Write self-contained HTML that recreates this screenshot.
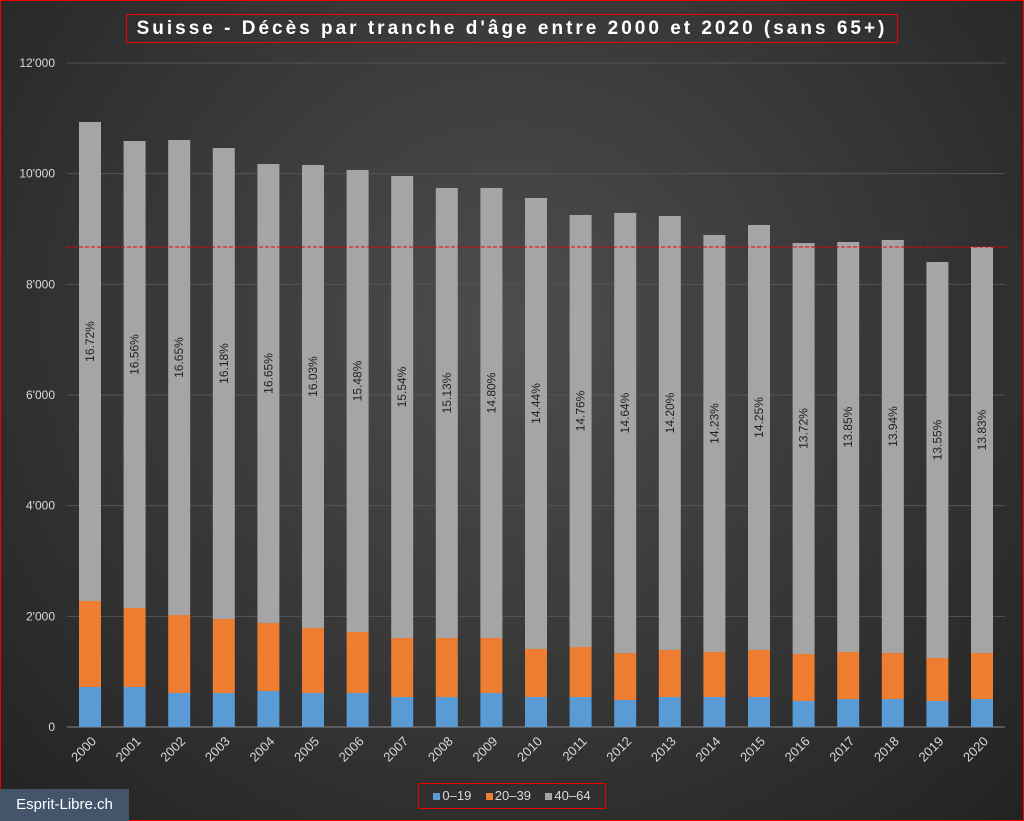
<!DOCTYPE html>
<html><head><meta charset="utf-8"><style>
body{margin:0;width:1024px;height:821px;overflow:hidden;font-family:"Liberation Sans",sans-serif}
#wrap{position:absolute;left:0;top:0;width:1022px;height:819px;border:1px solid #e00;background:radial-gradient(ellipse at 50% 40%,#4d4d4d 0%,#3a3a3a 45%,#222 100%)}
.sw{display:inline-block;width:7px;height:7px;margin-right:2px}
</style></head><body>
<div id="wrap"></div>
<svg id="chart" width="1024" height="821" style="position:absolute;left:0;top:0"></svg>
<script>
const years=["2000","2001","2002","2003","2004","2005","2006","2007","2008","2009","2010","2011","2012","2013","2014","2015","2016","2017","2018","2019","2020"];
const s0=[723,723,614,614,650,614,614,542,542,614,542,542,488,542,542,542,470,506,506,470,506];
const s20=[1554,1428,1410,1338,1230,1175,1103,1066,1066,994,868,904,849,850,813,850,849,849,831,777,831];
const s40=[8657,8439,8584,8512,8295,8368,8350,8350,8134,8134,8151,7807,7953,7843,7537,7681,7428,7410,7465,7157,7338];
const pctLabels=["16.72%","16.56%","16.65%","16.18%","16.65%","16.03%","15.48%","15.54%","15.13%","14.80%","14.44%","14.76%","14.64%","14.20%","14.23%","14.25%","13.72%","13.85%","13.94%","13.55%","13.83%"];
const yTicks=[0,2000,4000,6000,8000,10000,12000];
const yTickLabels=["0","2'000","4'000","6'000","8'000","10'000","12'000"];
const refLine=8675;
const NS="http://www.w3.org/2000/svg",svg=document.getElementById('chart');
const y=v=>727-v*(664/12000), x=i=>90+i*44.6;
function mk(t,a,p){const e=document.createElementNS(NS,t);for(const k in a)e.setAttribute(k,a[k]);(p||svg).appendChild(e);return e;}
yTicks.forEach((t,i)=>{
 const g=mk('line',{x1:67,x2:1005,y1:y(t),y2:y(t),stroke:t?'#555':'#888','stroke-width':1});
 
 
 const l=mk('text',{x:55,y:y(t)+4,'text-anchor':'end','font-size':12,fill:'#d9d9d9'});l.textContent=yTickLabels[i];
 
 
});
const cols=['#5b9bd5','#ed7d31','#a5a5a5'];
years.forEach((yr,i)=>{
 let base=0;[s0[i],s20[i],s40[i]].forEach((v,k)=>{
  const r=mk('rect',{x:x(i)-11,width:22,y:y(base+v),height:y(base)-y(base+v),fill:cols[k]});
  
  
  base+=v;});
 const cy=(y(s0[i]+s20[i])+y(base))/2-20;
 const t=mk('text',{x:x(i)+4,y:cy,'text-anchor':'middle','font-size':12,fill:'#222',transform:`rotate(-90 ${x(i)+4} ${cy})`});t.textContent=pctLabels[i];
 
 
 const xl=mk('text',{x:x(i)+7,y:742,'text-anchor':'end','font-size':13,fill:'#d9d9d9',transform:`rotate(-45 ${x(i)+7} 742)`});xl.textContent=yr;
 
 
});
const rl=mk('line',{x1:67,x2:1008,y1:y(refLine),y2:y(refLine),stroke:'#e00','stroke-width':1,'stroke-dasharray':'4,2'});


</script>
<div style="position:absolute;left:126px;top:14px;width:770px;height:27px;border:1px solid #e00;color:#fff;font-weight:bold;font-size:19px;letter-spacing:3px;text-align:center;line-height:27px;white-space:nowrap">Suisse - Décès par tranche d'âge entre 2000 et 2020 (sans 65+)</div>
<div style="position:absolute;left:418px;top:783px;width:186px;height:24px;border:1px solid #e00;color:#d9d9d9;font-size:13px;line-height:24px;text-align:center;white-space:nowrap">
<span><span class="sw" style="background:#5b9bd5"></span>0–19</span>&nbsp;&nbsp;&nbsp;
<span><span class="sw" style="background:#ed7d31"></span>20–39</span>&nbsp;&nbsp;&nbsp;
<span><span class="sw" style="background:#a5a5a5"></span>40–64</span></div>
<div style="position:absolute;left:0;top:789px;width:129px;height:32px;background:#44546a;color:#fff;font-size:15px;line-height:32px;text-align:center">Esprit-Libre.ch</div>
</body></html>
